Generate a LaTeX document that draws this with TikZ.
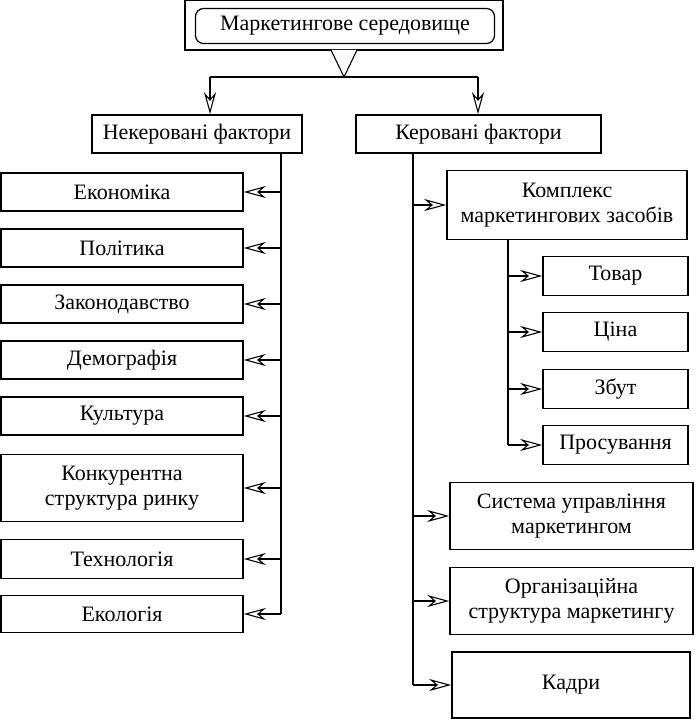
\documentclass[tikz,border=0pt]{standalone}
\usepackage{fontspec}
\setmainfont{Liberation Serif}
\usetikzlibrary{arrows.meta}
\begin{document}
\begin{tikzpicture}[x=1pt,y=-1pt,
  fbox/.style={draw, line width=1.6pt, inner sep=2pt, align=center, font=\fontsize{22}{25}\selectfont},
  conn/.style={line width=1.2pt},
  arr/.style={line width=1.2pt, -{Stealth[open, length=22pt, width=12pt, inset=7pt, line width=1.1pt]}}]
\useasboundingbox (0,0) rectangle (695,719);
% title
\node[fbox, minimum width=318pt, minimum height=50pt] (title) at (344,25) {};
\node[draw, line width=1.2pt, rounded corners=8pt, minimum width=299pt, minimum height=35pt, font=\fontsize{22}{25}\selectfont] (titlein) at (345,26) {Маркетингове середовище};
% level 1
\node[fbox, minimum width=210pt, minimum height=38pt] (unc) at (197,134) {Некеровані фактори};
\node[fbox, minimum width=245pt, minimum height=38pt] (con) at (478.5,134) {Керовані фактори};
% split
\coordinate (tri) at (344,77);
\coordinate (jl) at (210,77);
\coordinate (jr) at (478,77);
\draw[line width=1.1pt, fill=white] (331,50) -- (tri) -- (357,50);
\draw[conn] (jl) -- (jr);
\draw[arr] (jl) -- (jl |- unc.north);
\draw[arr] (jr) -- (jr |- con.north);
% left column
\node[fbox, minimum width=242pt, minimum height=38pt] (l1) at (122,192) {Економіка};
\node[fbox, minimum width=242pt, minimum height=38pt] (l2) at (122,248) {Політика};
\node[fbox, minimum width=242pt, minimum height=38pt] (l3) at (122,304) {Законодавство};
\node[fbox, minimum width=242pt, minimum height=38pt] (l4) at (122,360) {Демографія};
\node[fbox, minimum width=242pt, minimum height=38pt] (l5) at (122,416) {Культура};
\node[fbox, minimum width=242pt, minimum height=67pt] (l6) at (122,488) {Конкурентна\\структура ринку};
\node[fbox, minimum width=242pt, minimum height=39pt] (l7) at (122,559) {Технологія};
\node[fbox, minimum width=242pt, minimum height=37pt] (l8) at (122,614) {Екологія};
\coordinate (lt) at (281,153);
\draw[conn] (lt) -- (lt |- l8.east);
\foreach \n in {l1,l2,l3,l4,l5,l6,l7,l8}
  \draw[arr] (lt |- \n.east) -- (\n.east);
% right column
\node[fbox, minimum width=240pt, minimum height=69pt] (r1) at (567,205) {Комплекс\\маркетингових засобів};
\node[fbox, minimum width=145pt, minimum height=39pt] (s1) at (615.5,276) {Товар};
\node[fbox, minimum width=145pt, minimum height=39pt] (s2) at (615.5,332) {Ціна};
\node[fbox, minimum width=145pt, minimum height=39pt] (s3) at (615.5,389) {Збут};
\node[fbox, minimum width=145pt, minimum height=39pt] (s4) at (615.5,445) {Просування};
\node[fbox, minimum width=243pt, minimum height=67pt] (r2) at (571.5,516) {Система управління\\маркетингом};
\node[fbox, minimum width=243pt, minimum height=67pt] (r3) at (571.5,601) {Організаційна\\структура маркетингу};
\node[fbox, minimum width=238pt, minimum height=66pt] (r4) at (571,685) {Кадри};
\coordinate (rt) at (413,153);
\draw[conn] (rt) -- (rt |- r4.west);
\foreach \n in {r1,r2,r3,r4}
  \draw[arr] (rt |- \n.west) -- (\n.west);
\coordinate (st) at (508,239);
\draw[conn] (st) -- (st |- s4.west);
\foreach \n in {s1,s2,s3,s4}
  \draw[arr] (st |- \n.west) -- (\n.west);
\end{tikzpicture}
\end{document}
